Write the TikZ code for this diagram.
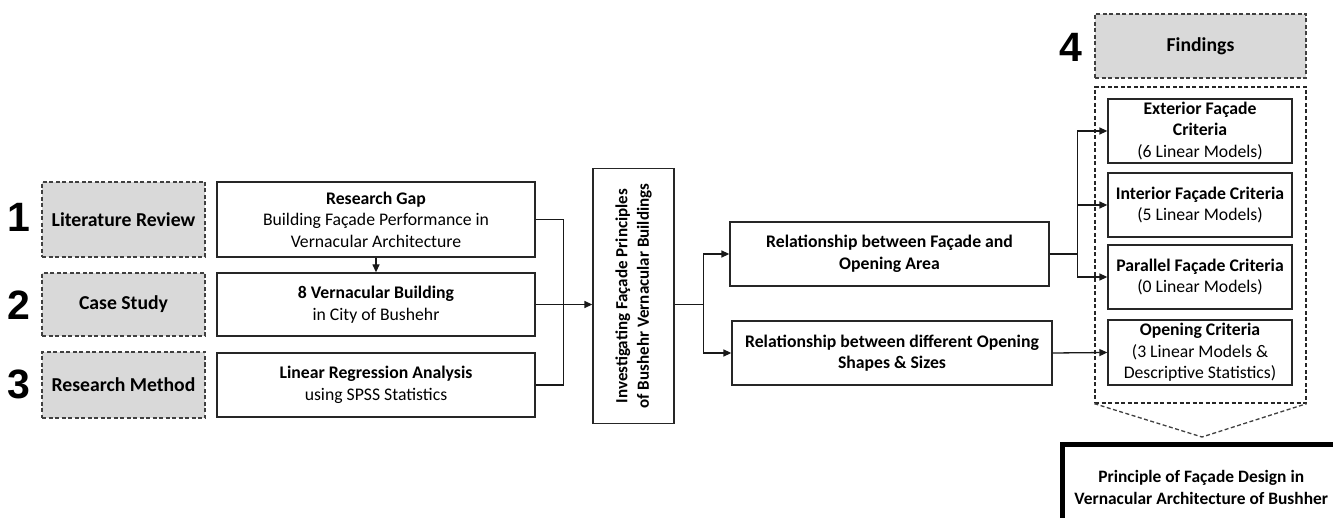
\documentclass[tikz,border=0pt]{standalone}
\usepackage{fontspec}
\setmainfont{Carlito}
\newfontfamily\numfont{Liberation Sans}
\usetikzlibrary{arrows.meta,calc}
\begin{document}
\begin{tikzpicture}[x=1pt,y=-1pt,
  lw/.style={line width=1.3pt},
  graybox/.style={draw=black!75, lw, dash pattern=on 4pt off 2.5pt, fill=black!15, inner sep=2pt, align=center, font=\fontsize{19.7}{22}\selectfont\bfseries},
  whitebox/.style={draw=black!85, lw, fill=white, inner sep=2pt, align=center, font=\fontsize{17.7}{21.5}\selectfont},
  boldtext/.style={font=\fontsize{17.7}{21.5}\selectfont\bfseries},
  numlabel/.style={font=\fontsize{41}{41}\selectfont\numfont\bfseries, inner sep=0pt},
  conn/.style={lw, draw=black!90},
  arr/.style={conn, -{Triangle[length=8pt,width=7pt]}},
]
\useasboundingbox (0,0) rectangle (1333,518);
\clip (0,0) rectangle (1333,518);
\fill[white] (0,0) rectangle (1333,518);

% numbers
\node[numlabel] (n1) at (19,217) {1};
\node[numlabel] (n2) at (19,305) {2};
\node[numlabel] (n3) at (19,384) {3};
\node[numlabel] (n4) at (1071,47) {4};

% left gray boxes
\node[graybox, minimum width=163, minimum height=75] (lit) at (123.5,219.5) {Literature Review};
\node[graybox, minimum width=163, minimum height=63] (case) at (123.5,304.5) {Case Study};
\node[graybox, minimum width=163, minimum height=66] (meth) at (123.5,385) {Research Method};

% middle boxes
\node[whitebox, minimum width=318, minimum height=75] (gap) at (376,219.5) {\textbf{Research Gap}\\Building Façade Performance in\\Vernacular Architecture};
\node[whitebox, minimum width=318, minimum height=63] (bldg) at (376,304.5) {\textbf{8 Vernacular Building}\\in City of Bushehr};
\node[whitebox, minimum width=318, minimum height=64] (reg) at (376,385) {\textbf{Linear Regression Analysis}\\using SPSS Statistics};

% investigating
\node[whitebox, font=\fontsize{17}{21.5}\selectfont\bfseries, rotate=90, minimum width=255, minimum height=81] (inv) at (633.5,296) {Investigating Façade Principles\\of Bushehr Vernacular Buildings};

% relationships
\node[whitebox, boldtext, minimum width=319, minimum height=64] (rel1) at (889.5,254) {Relationship between Façade and\\Opening Area};
\node[whitebox, boldtext, minimum width=320, minimum height=64] (rel2) at (892,353) {Relationship between different Opening\\Shapes \& Sizes};

% findings
\node[graybox, minimum width=211, minimum height=64] (find) at (1200.5,46) {Findings};
\node[draw=black!85, lw, dash pattern=on 4pt off 2.5pt, minimum width=211, minimum height=316, inner sep=0pt] (cont) at (1200.5,245) {};
\node[whitebox, minimum width=184, minimum height=64] (ext) at (1200,131) {\textbf{Exterior Façade}\\\textbf{Criteria}\\(6 Linear Models)};
\node[whitebox, minimum width=184, minimum height=64] (int) at (1200,205) {\textbf{Interior Façade Criteria}\\(5 Linear Models)};
\node[whitebox, minimum width=184, minimum height=64] (par) at (1200,277) {\textbf{Parallel Façade Criteria}\\(0 Linear Models)};
\node[whitebox, minimum width=184, minimum height=65] (open) at (1200,352.5) {\textbf{Opening Criteria}\\(3 Linear Models \&\\Descriptive Statistics)};

% chevron
\coordinate (chev) at (1202,437);
\draw[lw, draw=black!75, dash pattern=on 4pt off 2.5pt] (cont.south west) -- (chev) -- (cont.south east);

% principle
\node[draw, line width=4.5pt, minimum width=285, minimum height=86, anchor=north west, align=center, font=\fontsize{17.4}{21.5}\selectfont\bfseries] (prin) at (1060,442) {\hspace*{-7pt}Principle of Façade Design in\\\hspace*{-7pt}Vernacular Architecture of Bushher};

% connectors
\draw[arr] (gap.south) -- (bldg.north);
\draw[conn] (gap.east) -- ++(28,0) |- (reg.east);
\draw[arr] (bldg.east) -- (bldg.east -| inv.north);
\coordinate (split) at ($(inv.south |- bldg.east)+(29,0)$);
\draw[conn] (inv.south |- bldg.east) -- (split);
\draw[arr] (split) |- (rel1.west);
\draw[arr] (split) |- (rel2.west);
\coordinate (split2) at ($(rel1.east)+(28,0)$);
\draw[conn] (rel1.east) -- (split2);
\draw[arr] (split2) |- (ext.west);
\draw[arr] (split2) |- (int.west);
\draw[arr] (split2) |- (par.west);
\draw[arr] (rel2.east) -- (open.west);
\end{tikzpicture}
\end{document}
